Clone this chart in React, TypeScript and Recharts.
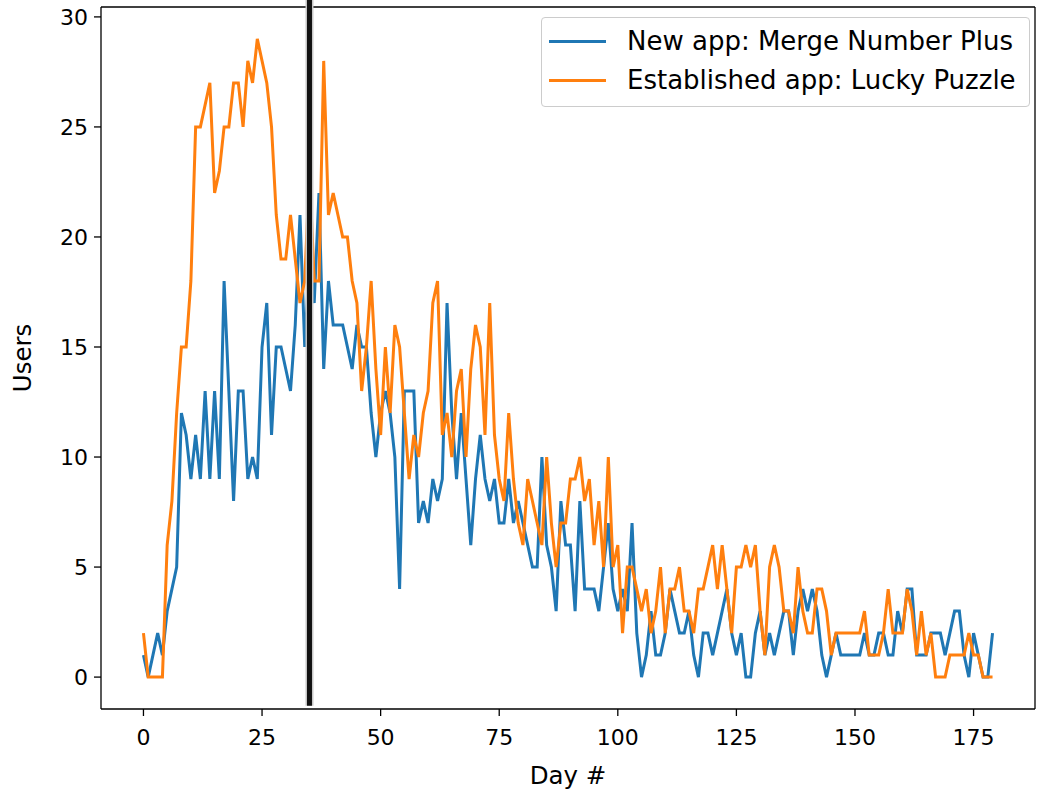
import { LineChart, Line, XAxis, YAxis, ReferenceLine } from "recharts";

// daily users, day 0..179
const newAppUsers = [
    1, 0, 1, 2, 1, 3, 4, 5, 12, 11,
    9, 11, 9, 13, 9, 13, 9, 18, 13, 8,
    13, 13, 9, 10, 9, 15, 17, 11, 15, 15,
    14, 13, 16, 21, 15, 19, 17, 22, 14, 18,
    16, 16, 16, 15, 14, 16, 15, 15, 12, 10,
    12, 13, 12, 10, 4, 13, 13, 13, 7, 8,
    7, 9, 8, 9, 17, 12, 9, 12, 9, 6,
    9, 11, 9, 8, 9, 7, 7, 9, 7, 8,
    7, 6, 5, 5, 10, 6, 5, 3, 8, 6,
    6, 3, 8, 4, 4, 4, 3, 5, 7, 4,
    3, 4, 3, 7, 2, 0, 1, 3, 1, 1,
    2, 4, 3, 2, 2, 3, 1, 0, 2, 2,
    1, 2, 3, 4, 2, 1, 2, 0, 0, 2,
    3, 1, 2, 1, 2, 3, 3, 1, 3, 4,
    3, 4, 3, 1, 0, 1, 2, 1, 1, 1,
    1, 1, 2, 1, 1, 2, 2, 1, 1, 3,
    2, 4, 4, 1, 1, 1, 2, 2, 2, 1,
    2, 3, 3, 1, 0, 2, 1, 0, 0, 2,
];

const establishedUsers = [
    2, 0, 0, 0, 0, 6, 8, 12, 15, 15,
    18, 25, 25, 26, 27, 22, 23, 25, 25, 27,
    27, 25, 28, 27, 29, 28, 27, 25, 21, 19,
    19, 21, 19, 17, 18, 23, 18, 18, 28, 21,
    22, 21, 20, 20, 18, 17, 13, 15, 18, 14,
    11, 15, 12, 16, 15, 12, 9, 11, 10, 12,
    13, 17, 18, 11, 12, 10, 13, 14, 10, 14,
    16, 15, 11, 17, 11, 9, 8, 12, 9, 7,
    6, 9, 8, 7, 6, 10, 7, 5, 7, 7,
    9, 9, 10, 8, 9, 6, 8, 5, 10, 5,
    6, 2, 5, 5, 4, 3, 4, 2, 3, 5,
    2, 4, 4, 5, 3, 3, 2, 4, 4, 5,
    6, 4, 6, 4, 2, 5, 5, 6, 5, 6,
    3, 1, 5, 6, 5, 3, 3, 2, 5, 3,
    2, 2, 4, 4, 3, 1, 2, 2, 2, 2,
    2, 2, 3, 1, 1, 1, 2, 4, 2, 2,
    2, 4, 3, 1, 3, 1, 2, 0, 0, 0,
    1, 1, 1, 1, 2, 1, 1, 0, 0, 0,
];

const dayTicks = [0, 25, 50, 75, 100, 125, 150, 175];
const userTicks = [0, 5, 10, 15, 20, 25, 30];
const launchDay = 35;
const newAppName = "New app: Merge Number Plus";
const establishedName = "Established app: Lucky Puzzle";

const data = newAppUsers.map((users, day) => ({
    day,
    newApp: users,
    established: establishedUsers[day],
}));

const BLUE = "#1f77b4";
const ORANGE = "#ff7f0e";
const FONT = "DejaVu Sans";
const X_DOMAIN: [number, number] = [-8.95, 187.95];
const Y_DOMAIN: [number, number] = [-1.45, 30.45];

const tickStyle = { fill: "#000", fontSize: 22, fontFamily: FONT };

function LegendBox() {
    const rows = [
        { name: newAppName, color: BLUE },
        { name: establishedName, color: ORANGE },
    ];
    return (
        <div
            style={{
                position: "absolute",
                left: 541,
                top: 17,
                width: 489,
                height: 90,
                border: "1px solid #cccccc",
                borderRadius: 4,
                background: "rgba(255,255,255,0.8)",
                fontFamily: FONT,
                fontSize: 26,
                color: "#000",
                boxSizing: "border-box",
            }}
        >
            {rows.map((r, i) => (
                <div
                    key={r.name}
                    style={{
                        position: "absolute",
                        left: 7,
                        top: i === 0 ? 8 : 47,
                        height: 30,
                        display: "flex",
                        alignItems: "center",
                        whiteSpace: "nowrap",
                    }}
                >
                    <div style={{ width: 57, height: 3, background: r.color }} />
                    <span style={{ marginLeft: 21 }}>{r.name}</span>
                </div>
            ))}
        </div>
    );
}

export default function App() {
    return (
        <div style={{ position: "absolute", left: 0, top: 0, width: 1038, height: 793, background: "#fff" }}>
            <LineChart
                width={1038}
                height={793}
                data={data}
                margin={{ top: 7, right: 3, left: 0, bottom: 0 }}
            >
                <XAxis
                    dataKey="day"
                    type="number"
                    domain={X_DOMAIN}
                    allowDataOverflow
                    ticks={dayTicks}
                    height={84}
                    tick={tickStyle}
                    tickSize={7}
                    tickMargin={13}
                    stroke="#000"
                    strokeWidth={1.3}
                    label={{
                        content: ({ viewBox }: any) => (
                            <text
                                x={viewBox.x + viewBox.width / 2}
                                y={viewBox.y + 66}
                                textAnchor="middle"
                                dominantBaseline="central"
                                fontFamily={FONT}
                                fontSize={24.5}
                                fill="#000"
                            >
                                Day #
                            </text>
                        ),
                    }}
                />
                <YAxis
                    type="number"
                    domain={Y_DOMAIN}
                    allowDataOverflow
                    ticks={userTicks}
                    width={101}
                    tick={tickStyle}
                    tickSize={7}
                    tickMargin={6}
                    stroke="#000"
                    strokeWidth={1.3}
                    label={{
                        content: ({ viewBox }: any) => {
                            const cx = viewBox.x + 22;
                            const cy = viewBox.y + viewBox.height / 2;
                            return (
                                <text
                                    x={cx}
                                    y={cy}
                                    transform={`rotate(-90 ${cx} ${cy})`}
                                    textAnchor="middle"
                                    dominantBaseline="central"
                                    fontFamily={FONT}
                                    fontSize={24.5}
                                    fill="#000"
                                >
                                    Users
                                </text>
                            );
                        },
                    }}
                />
                {/* top / right frame */}
                <ReferenceLine y={Y_DOMAIN[1]} stroke="#000" strokeWidth={1.3} ifOverflow="visible" />
                <ReferenceLine x={X_DOMAIN[1]} stroke="#000" strokeWidth={1.3} ifOverflow="visible" />
                <Line
                    type="linear"
                    dataKey="newApp"
                    name={newAppName}
                    stroke={BLUE}
                    strokeWidth={3}
                    dot={false}
                    isAnimationActive={false}
                />
                <Line
                    type="linear"
                    dataKey="established"
                    name={establishedName}
                    stroke={ORANGE}
                    strokeWidth={3}
                    dot={false}
                    isAnimationActive={false}
                />
                <ReferenceLine
                    segment={[{ x: launchDay, y: -1.3 }, { x: launchDay, y: 31 }]}
                    stroke="#c8c8c8"
                    strokeWidth={8}
                    ifOverflow="visible"
                />
                <ReferenceLine
                    segment={[{ x: launchDay, y: -1.3 }, { x: launchDay, y: 31 }]}
                    stroke="#111"
                    strokeWidth={5}
                    ifOverflow="visible"
                />
            </LineChart>
            <LegendBox />
        </div>
    );
}
